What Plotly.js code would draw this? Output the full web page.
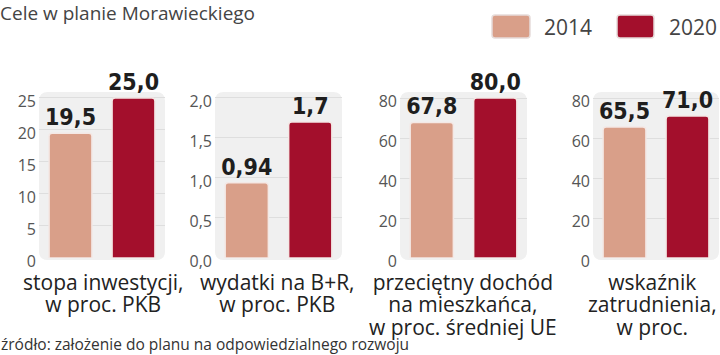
<!DOCTYPE html>
<html>
<head>
<meta charset="utf-8">
<script src="https://cdn.plot.ly/plotly-3.0.1.min.js"></script>
<style>
html,body{margin:0;padding:0;background:#fff;}
#chart{width:720px;height:355px;}
</style>
</head>
<body>
<div id="chart"></div>
<script>
// ---- data ----
const categories = [
  'stopa inwestycji,<br>w proc. PKB',
  'wydatki na B+R,<br>w proc. PKB',
  'przeciętny dochód<br>na mieszkańca,<br>w proc. średniej UE',
  'wskaźnik<br>zatrudnienia,<br>w proc.'
];
const years = ['2014', '2020'];
const values2014 = [19.5, 0.94, 67.8, 65.5];
const values2020 = [25.0, 1.7, 80.0, 71.0];
const labels2014 = ['19,5', '0,94', '67,8', '65,5'];
const labels2020 = ['25,0', '1,7', '80,0', '71,0'];
const tickValues = [
  [0, 5, 10, 15, 20, 25],
  [0, 0.5, 1.0, 1.5, 2.0],
  [0, 20, 40, 60, 80],
  [0, 20, 40, 60, 80]
];
const tickLabels = [
  ['0', '5', '10', '15', '20', '25'],
  ['0,0', '0,5', '1,0', '1,5', '2,0'],
  ['0', '20', '40', '60', '80'],
  ['0', '20', '40', '60', '80']
];
const yMax = [25.46, 2.037, 81.5, 81.5];
const titleText = 'Cele w planie Morawieckiego';
const sourceText = 'źródło: założenie do planu na odpowiedzialnego rozwoju';

// ---- style ----
const W = 720, H = 355;
const px = v => v / W;
const py = v => 1 - v / H;
const colors = ['#d99f89', '#a30f2c'];
const sans = 'Open Sans, Noto Sans, sans-serif';
const cond = 'DejaVu Sans Condensed, Liberation Sans Narrow, Roboto Condensed, Roboto, sans-serif';

const xDomains = [[39, 165], [215, 342], [400, 527], [593, 719]];
const labelCenters = [103, 277, 463, 652];
const yDomain = [py(258), py(95)];

function roundRect(x0, y0, x1, y1, r) {
  const X = v => px(v), Y = v => py(v);
  return 'M' + X(x0 + r) + ',' + Y(y0) +
    ' L' + X(x1 - r) + ',' + Y(y0) +
    ' Q' + X(x1) + ',' + Y(y0) + ' ' + X(x1) + ',' + Y(y0 + r) +
    ' L' + X(x1) + ',' + Y(y1 - r) +
    ' Q' + X(x1) + ',' + Y(y1) + ' ' + X(x1 - r) + ',' + Y(y1) +
    ' L' + X(x0 + r) + ',' + Y(y1) +
    ' Q' + X(x0) + ',' + Y(y1) + ' ' + X(x0) + ',' + Y(y1 - r) +
    ' L' + X(x0) + ',' + Y(y0 + r) +
    ' Q' + X(x0) + ',' + Y(y0) + ' ' + X(x0 + r) + ',' + Y(y0) + ' Z';
}

const data = [];
const layout = {
  width: W, height: H,
  margin: {l: 0, r: 0, t: 0, b: 0},
  paper_bgcolor: '#ffffff',
  plot_bgcolor: 'rgba(0,0,0,0)',
  showlegend: false,
  separators: ',.',
  title: {
    text: titleText,
    x: 0, xanchor: 'left', xref: 'paper',
    y: py(13), yanchor: 'middle', yref: 'container',
    font: {family: sans, size: 19, color: '#444'}
  },
  annotations: [],
  shapes: []
};

for (let i = 0; i < 4; i++) {
  const sfx = i === 0 ? '' : String(i + 1);
  data.push({
    type: 'bar',
    x: years,
    y: [values2014[i], values2020[i]],
    xaxis: 'x' + sfx,
    yaxis: 'y' + sfx,
    width: 0.68,
    marker: {
      color: colors,
      cornerradius: 3,
      line: {color: '#f4e8e5', width: 1.5}
    },
    text: [labels2014[i], labels2020[i]],
    textposition: 'outside',
    constraintext: 'none',
    cliponaxis: false,
    textfont: {family: cond, size: 23, color: '#1e1e1e', weight: 'bold'},
    hoverinfo: 'skip'
  });
  layout['xaxis' + sfx] = {
    domain: [px(xDomains[i][0]), px(xDomains[i][1])],
    anchor: 'y' + sfx,
    type: 'category',
    range: [-0.5, 1.5],
    showticklabels: false,
    showgrid: false, zeroline: false, showline: false, ticks: '',
    fixedrange: true
  };
  layout['yaxis' + sfx] = {
    domain: yDomain,
    anchor: 'x' + sfx,
    range: [0, yMax[i]],
    tickmode: 'array',
    tickvals: tickValues[i],
    ticktext: tickLabels[i],
    showgrid: true, gridcolor: '#dedede', gridwidth: 1,
    zeroline: false, showline: false, ticks: '',
    ticklabelstandoff: 2,
    ticklabelshift: 3,
    tickfont: {family: sans, size: 16, color: '#555'},
    fixedrange: true
  };
  // rounded panel background
  layout.shapes.push({
    type: 'path', xref: 'paper', yref: 'paper', layer: 'below',
    path: roundRect(xDomains[i][0], 92, xDomains[i][1], 260, 9),
    fillcolor: '#f0f0f0',
    line: {width: 0}
  });
  // category label: tight line spacing (base size sets spacing, span sets glyph size)
  const lines = categories[i].split('<br>');
  layout.annotations.push({
    text: lines.map(l => '<span style="font-size:21px">' + l + '</span>').join('<br>'),
    xref: 'paper', yref: 'paper',
    x: px(labelCenters[i]), y: py(267),
    xanchor: 'center', yanchor: 'top',
    align: 'center', showarrow: false,
    borderpad: 0,
    font: {family: sans, size: 17.3, color: '#222'}
  });
}

// source
layout.annotations.push({
  text: sourceText,
  xref: 'paper', yref: 'paper',
  x: 0, y: py(344), xanchor: 'left', yanchor: 'middle',
  showarrow: false,
  borderpad: 0,
  font: {family: sans, size: 15.5, color: '#333'}
});

// custom legend
const legendBoxes = [[492, 15, 530, 38], [617, 15, 654, 38]];
const legendTextX = [542, 667];
for (let k = 0; k < 2; k++) {
  const b = legendBoxes[k];
  layout.shapes.push({
    type: 'path', xref: 'paper', yref: 'paper',
    path: roundRect(b[0], b[1], b[2], b[3], 3),
    fillcolor: colors[k],
    line: {color: '#e6dcda', width: 1.5}
  });
  layout.annotations.push({
    text: years[k],
    xref: 'paper', yref: 'paper',
    x: px(legendTextX[k]), y: py(27),
    xanchor: 'left', yanchor: 'middle',
    showarrow: false,
    font: {family: sans, size: 21, color: '#444'}
  });
}

Plotly.newPlot('chart', data, layout, {displayModeBar: false, staticPlot: true});
</script>
</body>
</html>
